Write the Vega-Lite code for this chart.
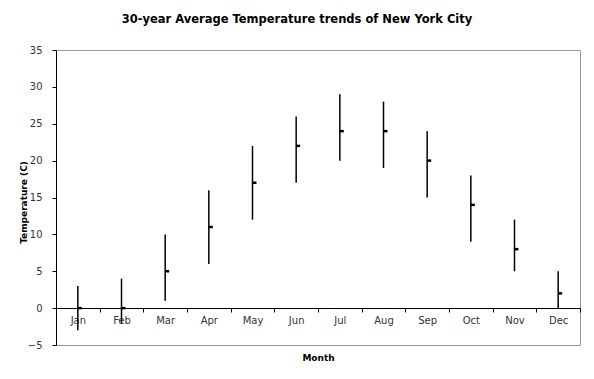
{
  "$schema": "https://vega.github.io/schema/vega-lite/v6.json",
  "autosize": "none",
  "width": 524,
  "height": 295,
  "padding": {"left": 56, "top": 50, "right": 14, "bottom": 34},
  "background": "white",
  "title": {
    "text": "30-year Average Temperature trends of New York City",
    "font": "DejaVu Sans",
    "fontSize": 11.5,
    "fontWeight": "bold",
    "color": "#000000",
    "anchor": "middle",
    "dx": -21,
    "offset": 20
  },
  "config": {
    "view": {"stroke": "#999999", "strokeWidth": 1},
    "font": "DejaVu Sans",
    "axisY": {
      "labelOverlap": false,
      "labelBound": false,
      "labelFlush": false,
      "labelFont": "DejaVu Sans",
      "labelFontSize": 10,
      "labelColor": "#333333",
      "labelPadding": 10,
      "tickSize": 4,
      "tickColor": "#000000",
      "domainColor": "#000000",
      "grid": false
    },
    "axisX": {
      "labelOverlap": false,
      "labelFont": "DejaVu Sans",
      "labelFontSize": 10,
      "labelColor": "#333333",
      "labelPadding": 3,
      "tickSize": 4,
      "tickColor": "#000000",
      "domainColor": "#000000",
      "grid": false
    }
  },
  "data": {
    "values": [
      {"month": "Jan", "low": -3, "high": 3, "avg": 0},
      {"month": "Feb", "low": -2, "high": 4, "avg": 0},
      {"month": "Mar", "low": 1, "high": 10, "avg": 5},
      {"month": "Apr", "low": 6, "high": 16, "avg": 11},
      {"month": "May", "low": 12, "high": 22, "avg": 17},
      {"month": "Jun", "low": 17, "high": 26, "avg": 22},
      {"month": "Jul", "low": 20, "high": 29, "avg": 24},
      {"month": "Aug", "low": 19, "high": 28, "avg": 24},
      {"month": "Sep", "low": 15, "high": 24, "avg": 20},
      {"month": "Oct", "low": 9, "high": 18, "avg": 14},
      {"month": "Nov", "low": 5, "high": 12, "avg": 8},
      {"month": "Dec", "low": 0, "high": 5, "avg": 2}
    ]
  },
  "encoding": {
    "x": {
      "field": "month",
      "type": "ordinal",
      "sort": null,
      "scale": {"paddingInner": 0, "paddingOuter": 0},
      "axis": {
        "title": "Month",
        "titleFont": "DejaVu Sans",
        "titleFontSize": 9,
        "titleFontWeight": "bold",
        "titleColor": "#000000",
        "titleY": 49,
        "titleBaseline": "middle",
        "offset": -37,
        "labelAngle": 0,
        "tickBand": "extent"
      }
    }
  },
  "layer": [
    {
      "mark": {"type": "rule", "color": "#000000", "strokeWidth": 1.5},
      "encoding": {
        "y": {
          "field": "low",
          "type": "quantitative",
          "scale": {"domain": [-5, 35], "nice": false},
          "axis": {
            "title": "Temperature (C)",
            "titleFont": "DejaVu Sans",
            "titleFontSize": 9,
            "titleFontWeight": "bold",
            "titleColor": "#000000",
            "titleX": -33,
            "titleY": 152,
            "titleBaseline": "middle",
            "tickCount": 20,
            "values": [-5, 0, 5, 10, 15, 20, 25, 30, 35]
          }
        },
        "y2": {"field": "high"}
      }
    },
    {
      "mark": {"type": "tick", "orient": "horizontal", "color": "#000000", "size": 4, "thickness": 2.5, "xOffset": 2, "opacity": 1},
      "encoding": {
        "y": {"field": "avg", "type": "quantitative"}
      }
    }
  ]
}
